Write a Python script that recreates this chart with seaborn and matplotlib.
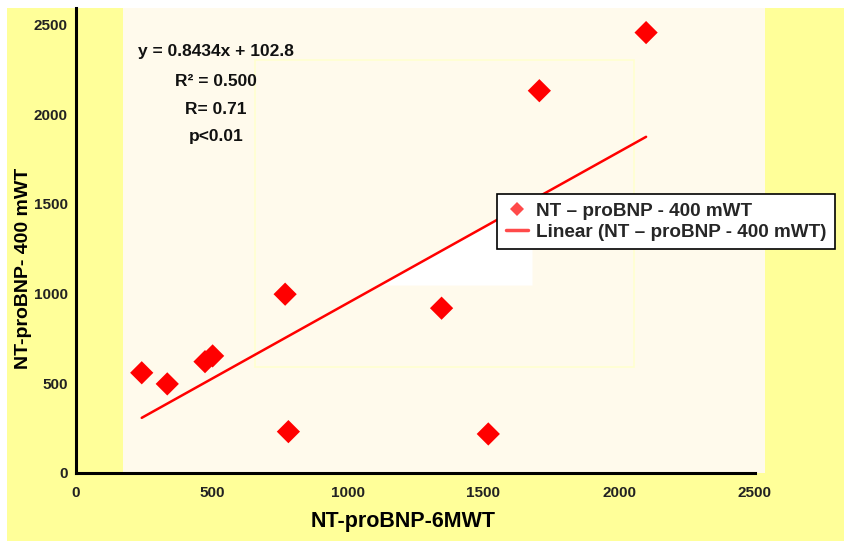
import matplotlib
matplotlib.use("Agg")
import matplotlib.pyplot as plt
import matplotlib.patches as mpatches
from matplotlib.lines import Line2D
import seaborn as sns
import pandas as pd
import numpy as np

# ---- data ----
nt_probnp_6mwt = [242, 336, 475, 503, 770, 782, 1346, 1518, 1706, 2099]
nt_probnp_400mwt = [558, 496, 620, 652, 996, 230, 918, 217, 2130, 2454]
fit_slope = 0.8434
fit_intercept = 102.8
x_ticks = [0, 500, 1000, 1500, 2000, 2500]
y_ticks = [0, 500, 1000, 1500, 2000, 2500]
stats_lines = ["y = 0.8434x + 102.8", "R\u00b2 = 0.500", "R= 0.71", "p<0.01"]
series_label = "NT \u2013 proBNP - 400 mWT"
trend_label = "Linear (NT \u2013 proBNP - 400 mWT)"
x_label = "NT-proBNP-6MWT"
y_label = "NT-proBNP- 400 mWT"

df = pd.DataFrame({"x": nt_probnp_6mwt, "y": nt_probnp_400mwt})
line_x = [min(nt_probnp_6mwt), max(nt_probnp_6mwt)]
line_df = pd.DataFrame({"x": line_x,
                        "y": [fit_slope * v + fit_intercept for v in line_x]})

sns.set_style("white")
plt.rcParams["font.family"] = ["Liberation Sans", "DejaVu Sans"]

W, H = 844, 541
fig = plt.figure(figsize=(W / 100, H / 100), dpi=100)
fig.patch.set_facecolor("white")

def fx(px):
    return px / W

def fy(py):
    return 1 - py / H

# outer yellow chart area
fig.patches.append(mpatches.Rectangle((fx(7), 0), 1 - fx(7), fy(8),
                                      transform=fig.transFigure,
                                      facecolor="#FFFF99", edgecolor="none",
                                      zorder=-3))
# cream plot area
fig.patches.append(mpatches.Rectangle((fx(123), fy(473)), fx(765 - 123), (473 - 8) / H,
                                      transform=fig.transFigure,
                                      facecolor="#FFFAEC", edgecolor="none",
                                      zorder=-2))
# faint inner frame
fig.patches.append(mpatches.Rectangle((fx(255), fy(367)), fx(634 - 255), (367 - 60) / H,
                                      transform=fig.transFigure,
                                      facecolor="none", edgecolor="#FFFFD0",
                                      linewidth=1.2, zorder=-1))

ax = fig.add_axes([fx(76), fy(472.9), fx(755 - 76), (472.9 - 8) / H])
ax.set_facecolor("none")

# white patch under the trend line (artifact in reference)
xs = np.linspace(1120, 1679, 20)
ax.fill_between(xs, fit_slope * xs + fit_intercept, 1047, color="white",
                linewidth=0, zorder=0)

sns.lineplot(data=line_df, x="x", y="y", ax=ax, color="#FF0000",
             linewidth=1.8, zorder=2)
sns.scatterplot(data=df, x="x", y="y", ax=ax, marker="D", s=140,
                color="#FF0000", edgecolor="none", zorder=3)

ax.set_xlim(0, 2500)
ax.set_ylim(0, 2591)
ax.set_xticks(x_ticks)
ax.set_yticks(y_ticks)
ax.set_xticklabels([str(t) for t in x_ticks])
ax.set_yticklabels([str(t) for t in y_ticks])
for s in ["top", "right"]:
    ax.spines[s].set_visible(False)
for s in ["left", "bottom"]:
    ax.spines[s].set_linewidth(2.2)
    ax.spines[s].set_color("black")
ax.tick_params(axis="both", direction="out", length=4.5, width=2,
               color="black", labelsize=11, labelcolor="#222222")
ax.tick_params(axis="y", pad=1.5)
ax.tick_params(axis="x", pad=5)
for lab in ax.get_xticklabels() + ax.get_yticklabels():
    lab.set_fontweight("bold")
ax.set_xlabel("")
ax.set_ylabel("")

fig.text(fx(403), fy(521), x_label, ha="center", va="center",
         fontsize=15.5, fontweight="bold", color="black")
fig.text(fx(24), fy(268), y_label, ha="center", va="center", rotation=90,
         fontsize=14, fontweight="bold", color="black")

for txt, py in zip(stats_lines, [51.7, 81.7, 109, 136.7]):
    fig.text(fx(216), fy(py), txt, ha="center", va="center",
             fontsize=12.5, fontweight="bold", color="#111111")

handles = [Line2D([], [], marker="D", linestyle="none", color="#FF4A4A",
                  markersize=7.5, markeredgewidth=0),
           Line2D([], [], color="#FF4A4A", linewidth=2.5)]
leg = fig.legend(handles, [series_label, trend_label],
                 loc="upper left", bbox_to_anchor=(fx(497), fy(194)),
                 bbox_transform=fig.transFigure, frameon=True, fancybox=False,
                 framealpha=1, facecolor="white", edgecolor="black",
                 borderaxespad=0, borderpad=0.45, labelspacing=0.2,
                 handlelength=1.2, handletextpad=0.4,
                 prop={"weight": "bold", "size": 13.6})
leg.get_frame().set_linewidth(1.2)

fig.savefig("out.png", dpi=100, facecolor=fig.get_facecolor())
